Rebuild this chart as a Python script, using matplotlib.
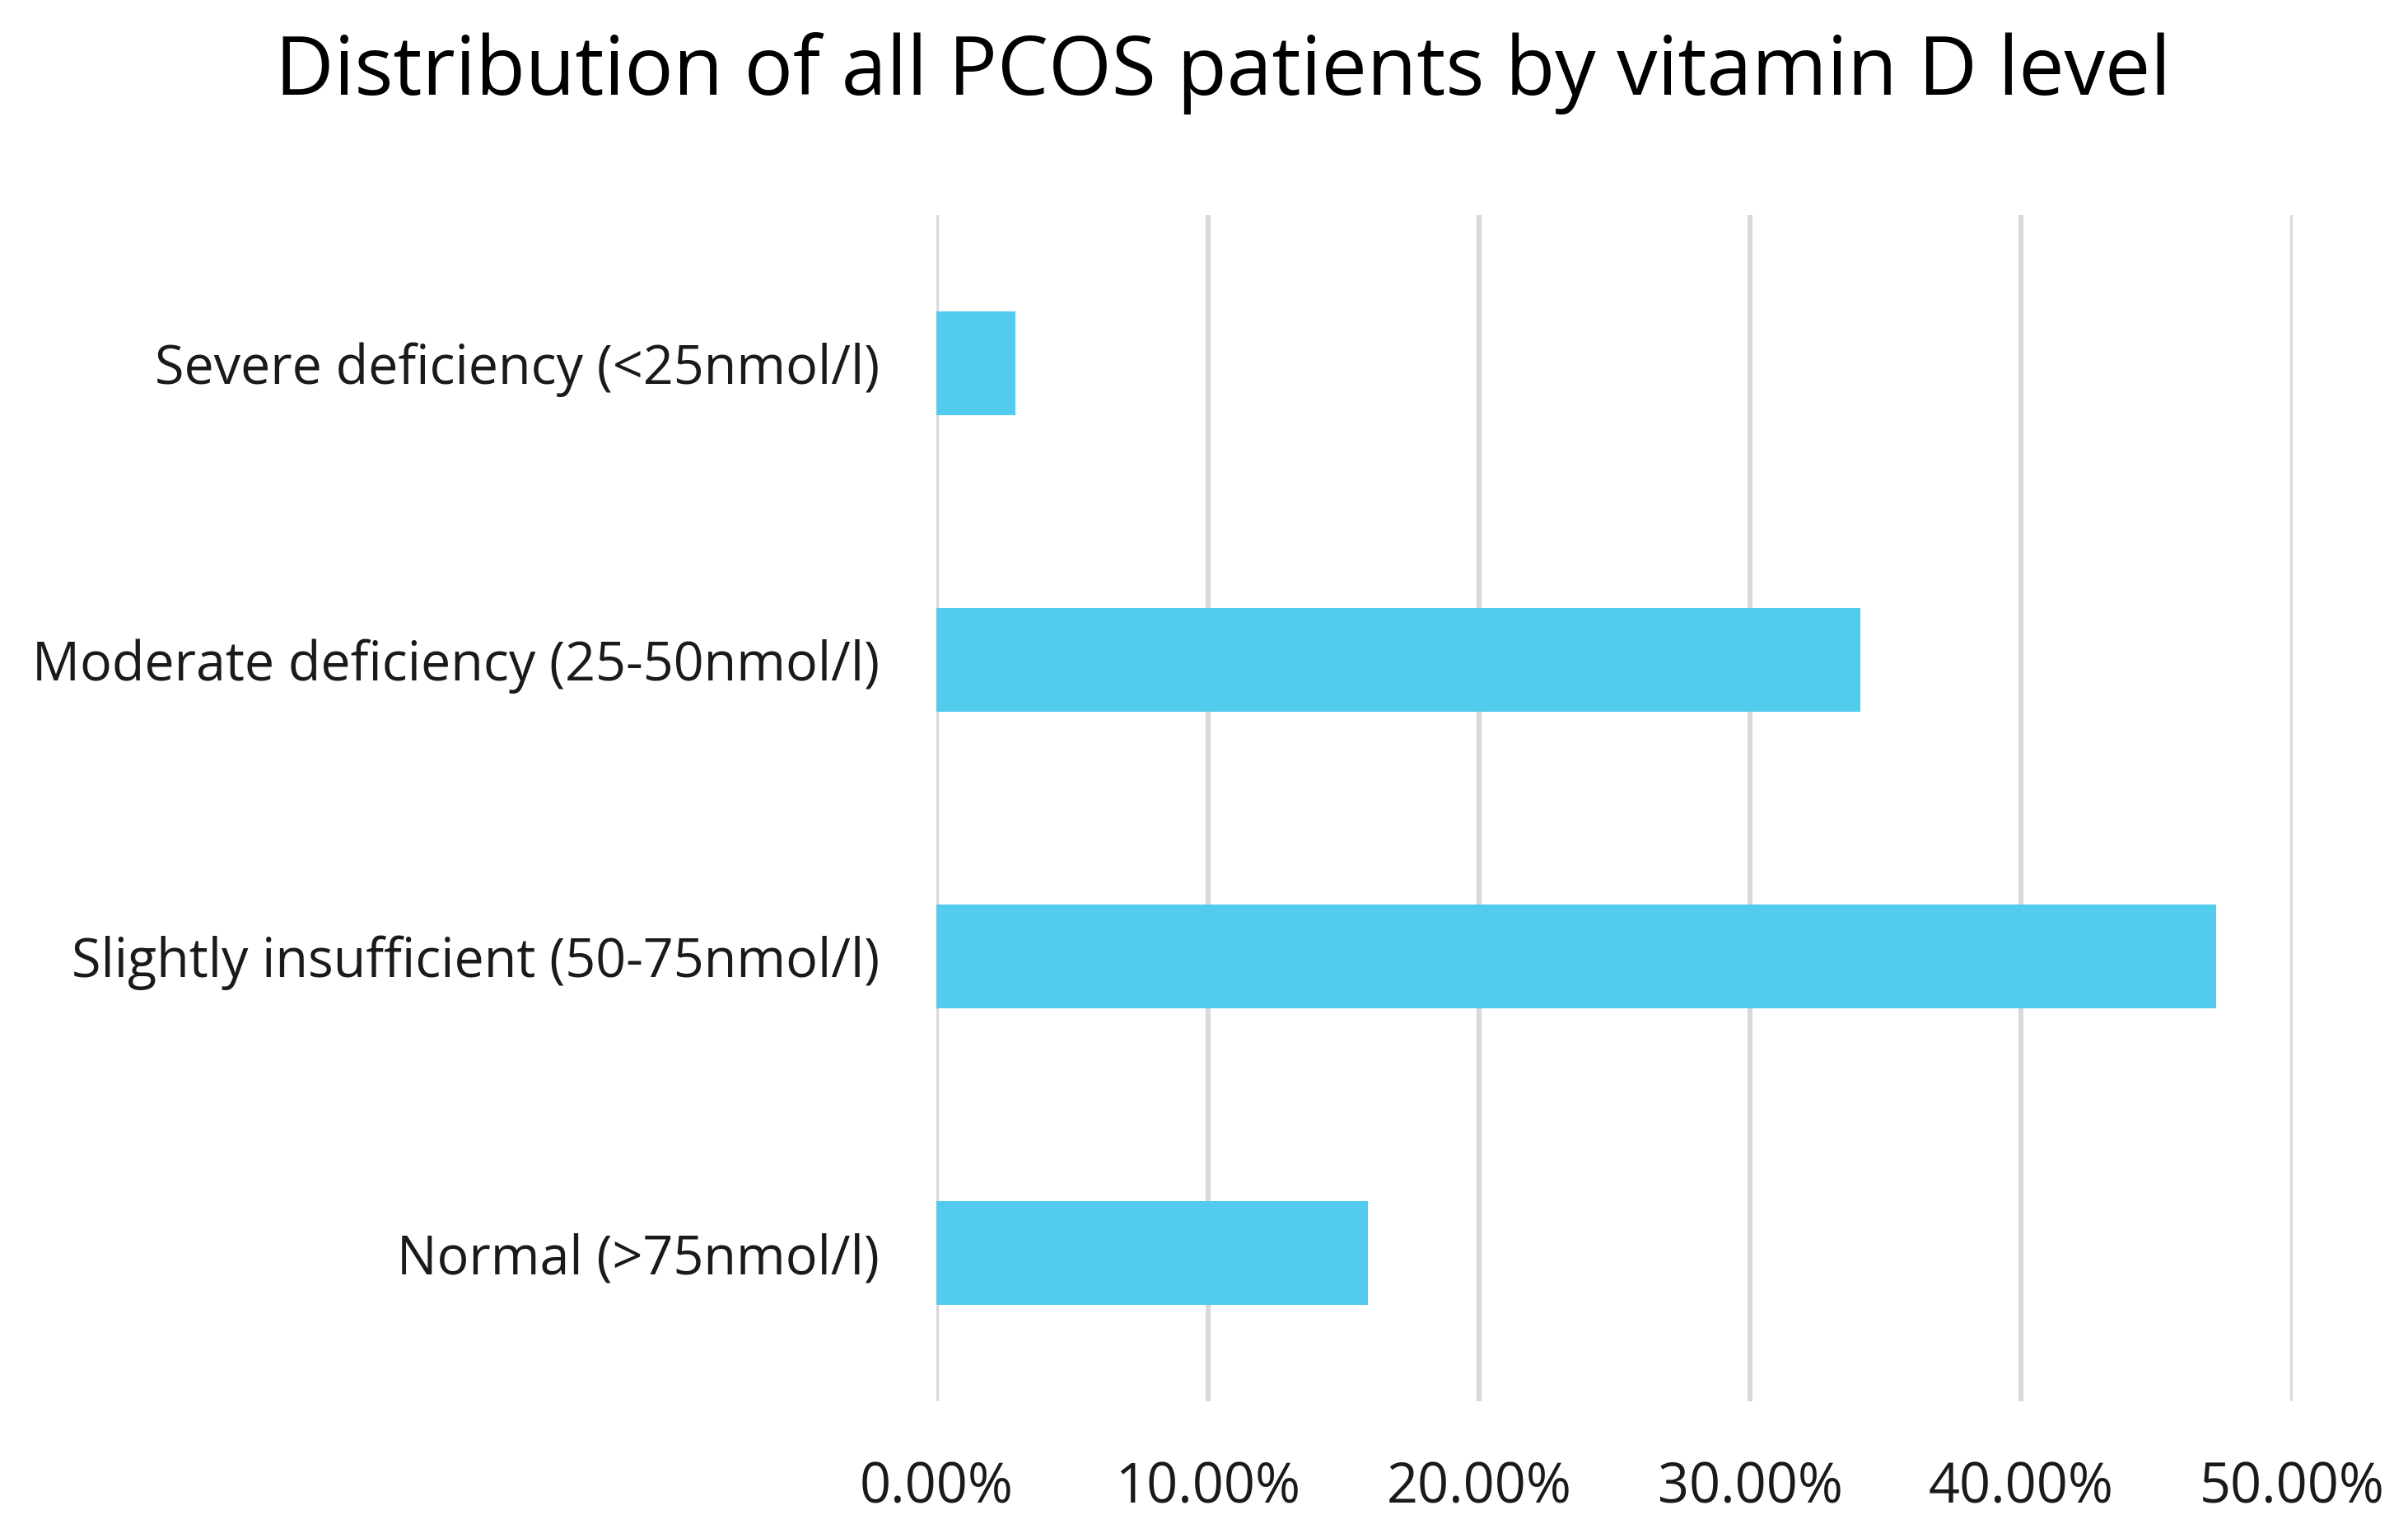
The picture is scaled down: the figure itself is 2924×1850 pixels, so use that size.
import matplotlib
matplotlib.use("Agg")
import matplotlib.pyplot as plt
from matplotlib.ticker import FuncFormatter

categories = ["Severe deficiency (<25nmol/l)", "Moderate deficiency (25-50nmol/l)",
              "Slightly insufficient (50-75nmol/l)", "Normal (>75nmol/l)"]
values = [0.0289, 0.3408, 0.4720, 0.1590]
xticks = [0.0, 0.1, 0.2, 0.3, 0.4, 0.5]
title = "Distribution of all PCOS patients by vitamin D level"

plt.rcParams['font.family'] = ['Open Sans', 'DejaVu Sans']

fig = plt.figure(figsize=(29.24, 18.5), dpi=100)
ax = fig.add_axes([0.389, 0.0805, 0.563, 0.7785])

ypos = list(range(len(categories)))
ax.barh(ypos, values, height=0.35, color="#53CBEC", zorder=3)
ax.set_yticks(ypos)
ax.set_yticklabels(categories, fontsize=46.5, color="#1a1a1a")
ax.set_ylim(len(categories) - 0.5, -0.5)
ax.set_xlim(0, 0.5)
ax.set_xticks(xticks)
ax.xaxis.set_major_formatter(FuncFormatter(lambda v, p: f"{v*100:.2f}%"))
ax.tick_params(axis='x', labelsize=48, colors="#1a1a1a", length=0, pad=52)
ax.tick_params(axis='y', length=0, pad=50)
ax.grid(axis='x', color="#D9D9D9", linewidth=4.5, zorder=0)
for s in ax.spines.values():
    s.set_visible(False)

fig.text(0.508, 0.952, title, ha='center', va='center', fontsize=71, color="#000000")

fig.savefig("out.png", dpi=100, facecolor="white")
